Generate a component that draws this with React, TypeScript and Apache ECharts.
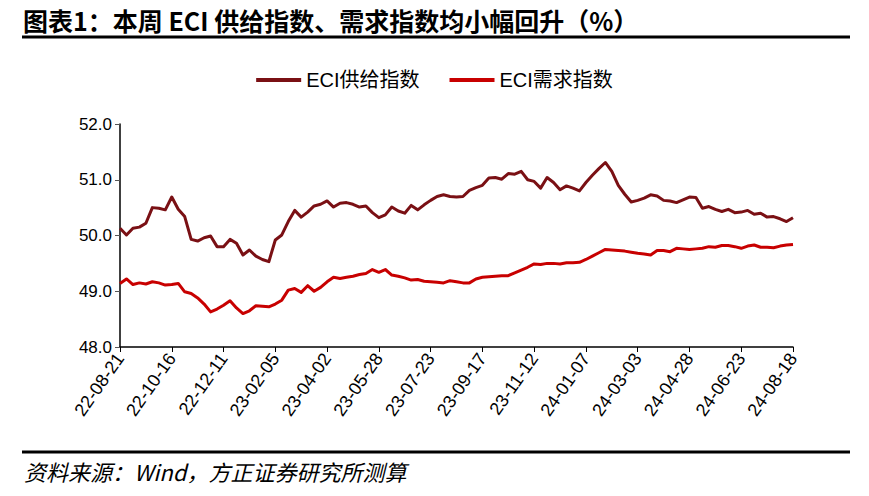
import React, { useEffect, useRef } from "react";
import * as echarts from "echarts";

const startDate = Date.UTC(2022, 7, 21);
const weekCount = 105;
const categories: string[] = [];
for (let i = 0; i < weekCount; i++) {
  const d = new Date(startDate + i * 7 * 86400000);
  const yy = String(d.getUTCFullYear() % 100).padStart(2, "0");
  const mm = String(d.getUTCMonth() + 1).padStart(2, "0");
  const dd = String(d.getUTCDate()).padStart(2, "0");
  categories.push(`${yy}-${mm}-${dd}`);
}

const supplyName = "ECI供给指数";
const demandName = "ECI需求指数";

const supply = [
  50.13, 50.01, 50.13, 50.15, 50.22, 50.5, 50.49, 50.46, 50.69, 50.47,
  50.34, 49.93, 49.9, 49.96, 49.99, 49.8, 49.8, 49.93, 49.86, 49.65,
  49.74, 49.63, 49.57, 49.53, 49.92, 50.01, 50.25, 50.45, 50.33, 50.42,
  50.53, 50.56, 50.62, 50.51, 50.58, 50.59, 50.56, 50.51, 50.53, 50.41,
  50.32, 50.37, 50.51, 50.44, 50.4, 50.54, 50.46, 50.55, 50.63, 50.7,
  50.73, 50.7, 50.69, 50.7, 50.81, 50.86, 50.9, 51.03, 51.04, 51.01,
  51.11, 51.1, 51.15, 51.0, 50.97, 50.85, 51.04, 50.95, 50.82, 50.89,
  50.85, 50.8, 50.95, 51.08, 51.2, 51.31, 51.15, 50.9, 50.74, 50.6,
  50.63, 50.67, 50.73, 50.71, 50.63, 50.62, 50.59, 50.64, 50.69, 50.68,
  50.49, 50.52, 50.47, 50.43, 50.47, 50.41, 50.42, 50.45, 50.38, 50.4,
  50.33, 50.34, 50.3, 50.25, 50.32,
];

const demand = [
  49.14, 49.22, 49.12, 49.15, 49.13, 49.17, 49.15, 49.11, 49.12, 49.14,
  48.99, 48.96, 48.88, 48.77, 48.63, 48.68, 48.75, 48.83, 48.7, 48.6,
  48.65, 48.74, 48.73, 48.72, 48.77, 48.84, 49.02, 49.05, 48.98, 49.1,
  49.0, 49.07, 49.17, 49.25, 49.23, 49.25, 49.27, 49.3, 49.32, 49.39,
  49.34, 49.39, 49.29, 49.27, 49.24, 49.2, 49.21, 49.18, 49.17, 49.16,
  49.15, 49.19, 49.17, 49.15, 49.15, 49.22, 49.25, 49.26, 49.27, 49.28,
  49.28, 49.33, 49.38, 49.43, 49.49, 49.48, 49.5, 49.5, 49.49, 49.51,
  49.51, 49.52, 49.57, 49.63, 49.69, 49.75, 49.74, 49.73, 49.72, 49.7,
  49.68, 49.67, 49.65, 49.73, 49.73, 49.71, 49.77, 49.76, 49.75, 49.76,
  49.77, 49.8, 49.79, 49.82, 49.82, 49.8, 49.77, 49.81, 49.83, 49.79,
  49.79, 49.78, 49.81, 49.83, 49.84,
];

const titleText = "图表1：本周 ECI 供给指数、需求指数均小幅回升（%）";
const sourceText = "资料来源：Wind，方正证券研究所测算";

const FONT = "'Liberation Sans', 'Noto Sans CJK SC', sans-serif";
const CJK = "'Noto Sans CJK SC', 'Liberation Sans', sans-serif";

export default function App() {
  const ref = useRef<HTMLDivElement>(null);
  useEffect(() => {
    if (!ref.current) return;
    const chart = echarts.init(ref.current, undefined, { renderer: "svg" });
    chart.setOption({
      animation: false,
      backgroundColor: "#fff",
      title: {
        text: titleText,
        left: 18,
        top: 2,
        textStyle: { fontFamily: CJK, fontSize: 25, fontWeight: "bold", color: "#000" },
      },
      legend: {
        top: 65,
        left: "center",
        itemGap: 30,
        itemWidth: 45,
        itemHeight: 4,
        icon: "rect",
        textStyle: { fontFamily: FONT, fontSize: 20, color: "#000" },
        data: [supplyName, demandName],
      },
      grid: { left: 120, right: 76, top: 124, bottom: 149, containLabel: false },
      xAxis: {
        type: "category",
        data: categories,
        boundaryGap: false,
        axisLine: { lineStyle: { color: "#000", width: 1.5 } },
        axisTick: { show: true, interval: 7, length: 5, lineStyle: { color: "#000" } },
        axisLabel: {
          interval: 7,
          rotate: 55,
          fontSize: 18,
          color: "#000",
          fontFamily: FONT,
          margin: 8,
        },
        splitLine: { show: false },
      },
      yAxis: {
        type: "value",
        min: 48,
        max: 52,
        interval: 1,
        axisLine: { show: true, lineStyle: { color: "#000", width: 1.5 } },
        axisTick: { show: true, length: 5, lineStyle: { color: "#555" } },
        axisLabel: {
          fontSize: 17,
          color: "#000",
          fontFamily: FONT,
          margin: 8,
          formatter: (v: number) => v.toFixed(1),
        },
        splitLine: { show: false },
      },
      series: [
        {
          name: supplyName,
          type: "line",
          data: supply,
          showSymbol: false,
          symbol: "none",
          lineStyle: { color: "#7A1014", width: 3, join: "round" },
          itemStyle: { color: "#7A1014" },
        },
        {
          name: demandName,
          type: "line",
          data: demand,
          showSymbol: false,
          symbol: "none",
          lineStyle: { color: "#C80000", width: 3, join: "round" },
          itemStyle: { color: "#C80000" },
        },
      ],
      graphic: [
        {
          type: "line",
          shape: { x1: 22, y1: 37, x2: 850, y2: 37 },
          style: { stroke: "#000", lineWidth: 3 },
        },
        {
          type: "line",
          shape: { x1: 22, y1: 452, x2: 850, y2: 452 },
          style: { stroke: "#000", lineWidth: 3 },
        },
        {
          type: "text",
          left: 24,
          top: 460,
          style: {
            text: sourceText,
            fontFamily: CJK,
            fontSize: 22,
            fontStyle: "italic",
            fill: "#000",
          },
        },
      ],
    });
    return () => chart.dispose();
  }, []);
  return (
    <div
      ref={ref}
      style={{ position: "absolute", left: 0, top: 0, width: 869, height: 496 }}
    />
  );
}
